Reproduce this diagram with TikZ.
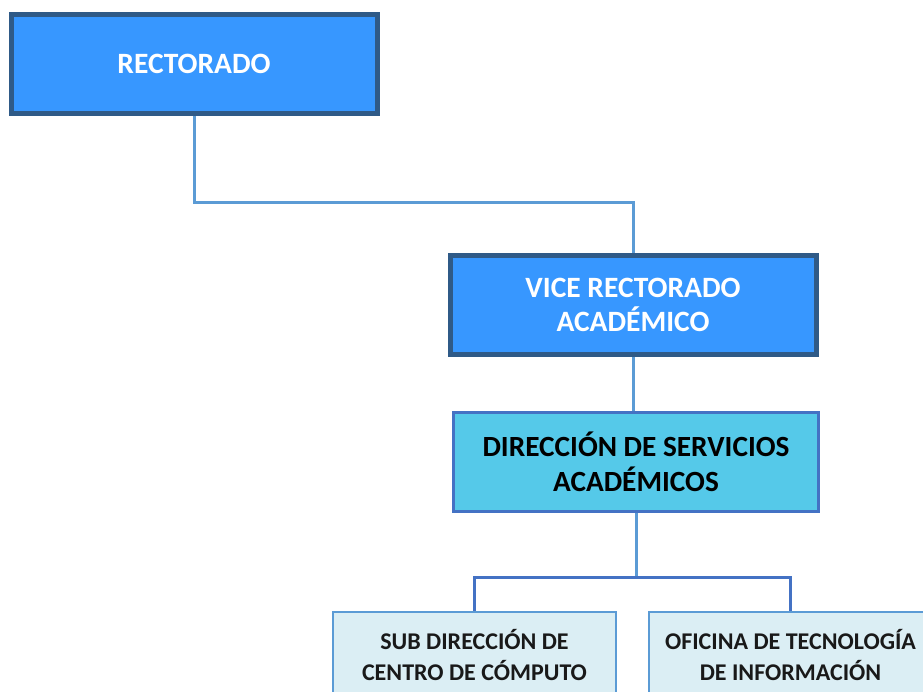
\documentclass[tikz,border=0pt]{standalone}
\usepackage{fontspec}
\setmainfont{Carlito}
\usetikzlibrary{positioning}

\definecolor{rectfill}{RGB}{55,151,255}
\definecolor{rectline}{RGB}{47,90,135}
\definecolor{dirfill}{RGB}{85,201,233}
\definecolor{dirline}{RGB}{68,114,196}
\definecolor{subfill}{RGB}{219,238,244}
\definecolor{subline}{RGB}{91,155,213}

\begin{document}
\begin{tikzpicture}[
    x=1pt, y=-1pt,
    node distance=31pt,
    topbox/.style={draw=rectline, fill=rectfill, line width=5pt, text=white, align=center, inner sep=0pt,
        minimum width=366pt, minimum height=99pt, font=\bfseries\fontsize{29.5}{34}\selectfont},
    dirbox/.style={draw=dirline, fill=dirfill, line width=3pt, align=center, inner sep=0pt,
        minimum width=365pt, minimum height=99pt, font=\bfseries\fontsize{29.3}{35}\selectfont},
    subbox/.style={draw=subline, fill=subfill, line width=2pt, text=black!90, align=center, inner sep=0pt,
        minimum width=283pt, minimum height=86pt, font=\bfseries\fontsize{24}{31}\selectfont},
    link/.style={draw=subline, line width=3pt},
    bar/.style={draw=dirline, line width=3pt}
]
\useasboundingbox (0,0) rectangle (923,691);
\node[topbox] (rector) at (194,64) {RECTORADO};
\node[topbox] (vice) at (633,304.5) {VICE RECTORADO\\ACADÉMICO};
\node[dirbox] (dir) at (636,462) {DIRECCIÓN DE SERVICIOS\\ACADÉMICOS};
\node[subbox] (computo) at (474.5,655) {SUB DIRECCIÓN DE\\CENTRO DE CÓMPUTO};
\node[subbox, right=of computo] (oficina) {OFICINA DE TECNOLOGÍA\\DE INFORMACIÓN};
% connectors
\draw[link] (rector.south) -- ++(0,86) -| (vice.north);
\draw[link] (vice.south) -- (vice.south |- dir.north);
\draw[link] (dir.south) -- ++(0,64) coordinate (fork);
\draw[bar] (computo.north) |- (fork) -| (oficina.north);
\end{tikzpicture}
\end{document}
